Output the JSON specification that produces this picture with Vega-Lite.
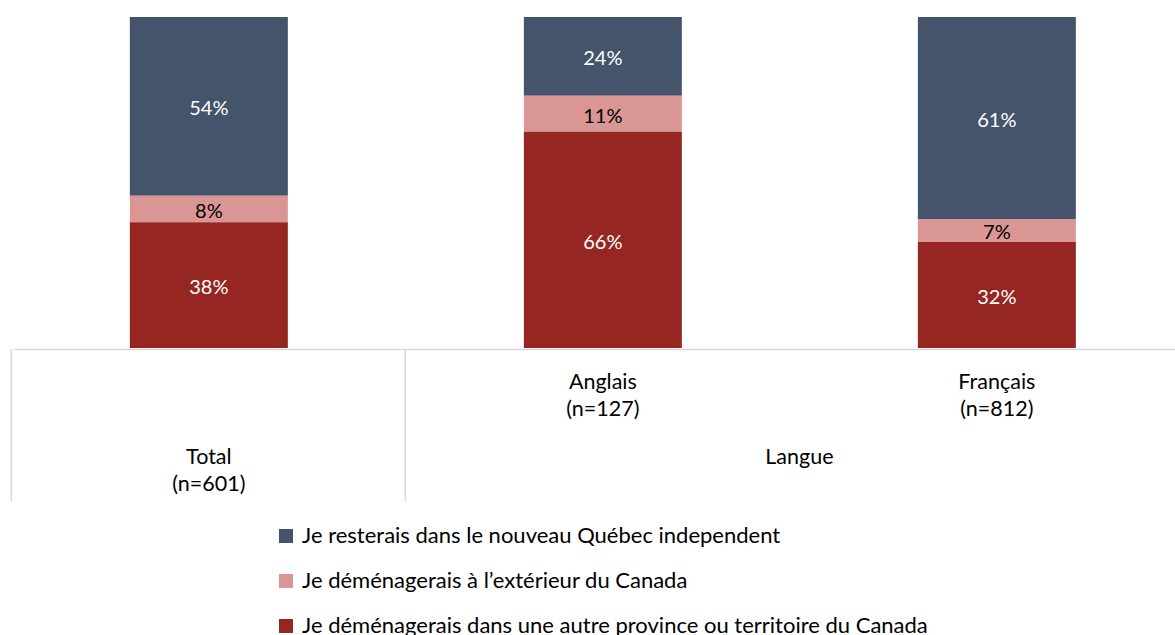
{
  "$schema": "https://vega.github.io/schema/vega-lite/v6.json",
  "padding": {"left": 10, "top": 17, "right": 0, "bottom": 0},
  "background": "white",
  "config": {"view": {"stroke": null}, "font": "Lato", "concat": {"spacing": 0}},
  "datasets": {
    "bars": [
      {"group": "Total", "response": "Je resterais dans le nouveau Québec independent", "code": 3, "value": 54},
      {"group": "Total", "response": "Je déménagerais à l’extérieur du Canada", "code": 2, "value": 8},
      {"group": "Total", "response": "Je déménagerais dans une autre province ou territoire du Canada", "code": 1, "value": 38},
      {"group": "Anglais", "response": "Je resterais dans le nouveau Québec independent", "code": 3, "value": 24},
      {"group": "Anglais", "response": "Je déménagerais à l’extérieur du Canada", "code": 2, "value": 11},
      {"group": "Anglais", "response": "Je déménagerais dans une autre province ou territoire du Canada", "code": 1, "value": 66},
      {"group": "Français", "response": "Je resterais dans le nouveau Québec independent", "code": 3, "value": 61},
      {"group": "Français", "response": "Je déménagerais à l’extérieur du Canada", "code": 2, "value": 7},
      {"group": "Français", "response": "Je déménagerais dans une autre province ou territoire du Canada", "code": 1, "value": 32}
    ],
    "subgroups": [
      {"group": "Anglais", "label": "Anglais\n(n=127)", "level": "sous-groupe"},
      {"group": "Français", "label": "Français\n(n=812)", "level": "sous-groupe"}
    ],
    "groups": [
      {"parent": "Total", "label": "Total\n(n=601)", "first": "Total", "last": "Total", "level": "groupe"},
      {"parent": "Langue", "label": "Langue", "first": "Anglais", "last": "Français", "level": "groupe"}
    ]
  },
  "vconcat": [
    {
      "width": 1165,
      "height": 331,
      "data": {"name": "bars"},
      "layer": [
        {
          "mark": {"type": "bar"},
          "encoding": {
            "x": {"field": "group", "type": "nominal", "sort": ["Total", "Anglais", "Français"],
                  "scale": {"type": "band", "domain": ["Total", "Anglais", "Français"], "paddingInner": 0.599, "paddingOuter": 0.2779, "align": 0.529, "round": false},
                  "axis": null},
            "y": {"field": "value", "type": "quantitative", "stack": "normalize", "scale": {"domain": [0, 1], "nice": false}, "axis": null},
            "color": {"field": "response", "type": "nominal",
                      "scale": {"domain": ["Je resterais dans le nouveau Québec independent", "Je déménagerais à l’extérieur du Canada", "Je déménagerais dans une autre province ou territoire du Canada"],
                                "range": ["#44546a", "#da9694", "#952622"]},
                      "legend": {"orient": "none", "legendX": 261, "legendY": 508, "direction": "vertical", "title": null,
                                 "symbolType": "square", "symbolSize": 196, "symbolStrokeWidth": 0, "symbolOpacity": 1,
                                 "labelFont": "Lato", "labelFontSize": 22, "labelColor": "#000000", "labelOffset": 5, "labelLimit": 900,
                                 "rowPadding": 23, "padding": 0}},
            "order": {"field": "code", "type": "quantitative", "sort": "ascending"}
          }
        },
        {
          "transform": [
            {"stack": "value", "groupby": ["group"], "sort": [{"field": "code", "order": "ascending"}], "offset": "normalize", "as": ["v0", "v1"]},
            {"calculate": "(datum.v0 + datum.v1) / 2", "as": "mid"},
            {"calculate": "datum.value + '%'", "as": "pct"}
          ],
          "mark": {"type": "text", "fontSize": 20, "baseline": "middle", "align": "center", "font": "Lato", "dy": 3},
          "encoding": {
            "x": {"field": "group", "type": "nominal", "sort": ["Total", "Anglais", "Français"], "axis": null},
            "y": {"field": "mid", "type": "quantitative", "axis": null},
            "text": {"field": "pct", "type": "nominal"},
            "color": {"condition": {"test": "datum.code == 2", "value": "#000000"}, "value": "#ffffff"}
          }
        }
      ]
    },
    {
      "width": 1165,
      "height": 152,
      "layer": [
        {
          "data": {"name": "groups"},
          "mark": {"type": "rule", "color": "#d9d9d9", "strokeWidth": 1.5},
          "encoding": {
            "x": {"field": "first", "type": "nominal", "bandPosition": -0.75,
                  "scale": {"type": "band", "domain": ["Total", "Anglais", "Français"], "paddingInner": 0.599, "paddingOuter": 0.2779, "align": 0.529, "round": false},
                  "axis": {"orient": "top", "domain": true, "domainColor": "#d9d9d9", "domainWidth": 1.5, "labels": false, "ticks": false, "grid": false, "title": null}}
          }
        },
        {
          "data": {"name": "subgroups"},
          "mark": {"type": "text", "fontSize": 21.5, "lineBreak": "\n", "lineHeight": 27, "baseline": "alphabetic", "align": "center", "color": "#000000", "font": "Lato"},
          "encoding": {
            "x": {"field": "group", "type": "nominal",
                  "axis": {"orient": "top", "domain": true, "domainColor": "#d9d9d9", "domainWidth": 1.5, "labels": false, "ticks": false, "grid": false, "title": null}},
            "y": {"field": "level", "type": "ordinal", "scale": {"domain": ["sous-groupe", "groupe"], "range": [40, 115], "padding": 0}, "axis": null},
            "text": {"field": "label", "type": "nominal"}
          }
        },
        {
          "data": {"name": "groups"},
          "transform": [{"filter": "datum.first == datum.last"}],
          "mark": {"type": "text", "fontSize": 21.5, "lineBreak": "\n", "lineHeight": 27, "baseline": "alphabetic", "align": "center", "color": "#000000", "font": "Lato"},
          "encoding": {
            "x": {"field": "first", "type": "nominal",
                  "axis": {"orient": "top", "domain": true, "domainColor": "#d9d9d9", "domainWidth": 1.5, "labels": false, "ticks": false, "grid": false, "title": null}},
            "y": {"field": "level", "type": "ordinal", "axis": null},
            "text": {"field": "label", "type": "nominal"}
          }
        },
        {
          "data": {"name": "groups"},
          "transform": [{"filter": "datum.first != datum.last"}],
          "mark": {"type": "text", "fontSize": 21.5, "lineBreak": "\n", "lineHeight": 27, "baseline": "alphabetic", "align": "center", "color": "#000000", "font": "Lato"},
          "encoding": {
            "x": {"field": "last", "type": "nominal", "bandPosition": -0.75,
                  "axis": {"orient": "top", "domain": true, "domainColor": "#d9d9d9", "domainWidth": 1.5, "labels": false, "ticks": false, "grid": false, "title": null}},
            "y": {"field": "level", "type": "ordinal", "axis": null},
            "text": {"field": "label", "type": "nominal"}
          }
        }
      ]
    }
  ]
}
